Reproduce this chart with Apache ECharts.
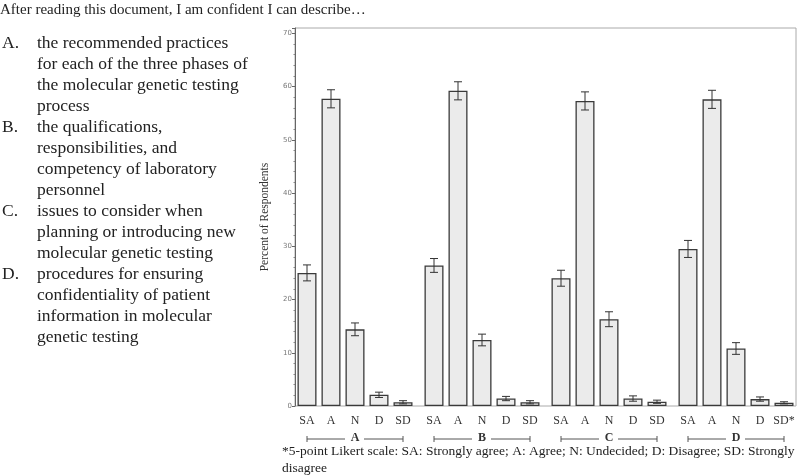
<!DOCTYPE html>
<html>
<head>
<meta charset="utf-8">
<script src="https://cdn.jsdelivr.net/npm/echarts@6/dist/echarts.min.js"></script>
<style>
  html, body { margin: 0; padding: 0; background: #fff; }
  #chart { width: 800px; height: 476px; }
</style>
</head>
<body>
<div id="chart"></div>
<script>
// statements A-D, 5-point Likert answers
const groups = ["A", "B", "C", "D"];
const levels = ["SA", "A", "N", "D", "SD"];

// percent of respondents per answer, and half-width of the error bar
const valuesA = [25.0, 57.7, 14.4, 2.1, 0.7];
const errorsA = [1.5, 1.7, 1.2, 0.5, 0.3];
const valuesB = [26.4, 59.2, 12.4, 1.4, 0.7];
const errorsB = [1.3, 1.7, 1.1, 0.4, 0.3];
const valuesC = [24.0, 57.3, 16.3, 1.4, 0.8];
const errorsC = [1.5, 1.7, 1.4, 0.5, 0.3];
const valuesD = [29.5, 57.6, 10.8, 1.3, 0.6];
const errorsD = [1.6, 1.7, 1.1, 0.4, 0.2];

const yTicks = [0, 10, 20, 30, 40, 50, 60, 70];

const allValues = [valuesA, valuesB, valuesC, valuesD];
const allErrors = [errorsA, errorsB, errorsC, errorsD];

const statementLines = [
  "the recommended practices",
  "for each of the three phases of",
  "the molecular genetic testing",
  "process",
  "the qualifications,",
  "responsibilities, and",
  "competency of laboratory",
  "personnel",
  "issues to consider when",
  "planning or introducing new",
  "molecular genetic testing",
  "procedures for ensuring",
  "confidentiality of patient",
  "information in molecular",
  "genetic testing"
];
const statementStarts = [0, 4, 8, 11];

const serif = "'Liberation Serif', 'DejaVu Serif', serif";
const yMax = 71;

// layout
const plotLeft = 295, plotTop = 28, plotHeight = 378;
const groupWidth = 120, groupStep = 127;
const plotWidth = groupStep * 3 + groupWidth;

const chart = echarts.init(document.getElementById("chart"));

let grids = [{
  left: plotLeft, top: plotTop, width: plotWidth, height: plotHeight,
  show: true, borderColor: "#aaa", borderWidth: 1, backgroundColor: "transparent"
}];
let xAxes = [{ gridIndex: 0, type: "value", min: 0, max: 1, show: false }];
let yAxes = [{
  gridIndex: 0,
  type: "value",
  min: 0,
  max: yMax,
  interval: 10,
  name: "Percent of Respondents",
  nameLocation: "middle",
  nameGap: 24,
  nameTextStyle: { fontFamily: serif, fontSize: 11.5, color: "#333" },
  axisLine: { show: true, lineStyle: { color: "#666", width: 1 } },
  axisTick: { show: true, length: 3, lineStyle: { color: "#666" } },
  minorTick: { show: true, splitNumber: 5, length: 1.5, lineStyle: { color: "#888" } },
  axisLabel: {
    margin: 3,
    fontSize: 7,
    color: "#777",
    fontFamily: "'DejaVu Sans', sans-serif",
    formatter: function (v) { return yTicks.indexOf(v) >= 0 ? String(v) : ""; }
  },
  splitLine: { show: false }
}];
let series = [];

groups.forEach(function (g, i) {
  const gi = i + 1;
  grids.push({ left: plotLeft + i * groupStep, top: plotTop, width: groupWidth, height: plotHeight });
  xAxes.push({
    gridIndex: gi,
    type: "category",
    data: levels,
    axisLine: { show: false },
    axisTick: { show: false },
    axisLabel: {
      margin: 9,
      interval: 0,
      fontFamily: serif,
      fontSize: 12,
      color: "#333",
      // the footnote marker sits on the last answer label
      formatter: function (v, idx) {
        return (i === groups.length - 1 && idx === levels.length - 1) ? v + "*" : v;
      }
    }
  });
  yAxes.push({ gridIndex: gi, type: "value", min: 0, max: yMax, show: false });

  series.push({
    type: "bar",
    xAxisIndex: gi,
    yAxisIndex: gi,
    data: allValues[i],
    barWidth: 19,
    itemStyle: { color: "#ebebeb", borderColor: "#3a3a3a", borderWidth: 1.3 },
    silent: true
  });
  series.push({
    type: "custom",
    xAxisIndex: gi,
    yAxisIndex: gi,
    data: allValues[i].map(function (v, k) { return [k, v - allErrors[i][k], v + allErrors[i][k]]; }),
    renderItem: function (params, api) {
      const lo = api.coord([api.value(0), api.value(1)]);
      const hi = api.coord([api.value(0), api.value(2)]);
      const w = 4;
      const style = { stroke: "#333", lineWidth: 1 };
      return {
        type: "group",
        children: [
          { type: "line", shape: { x1: hi[0], y1: hi[1], x2: lo[0], y2: lo[1] }, style: style },
          { type: "line", shape: { x1: hi[0] - w, y1: hi[1], x2: hi[0] + w, y2: hi[1] }, style: style },
          { type: "line", shape: { x1: lo[0] - w, y1: lo[1], x2: lo[0] + w, y2: lo[1] }, style: style }
        ]
      };
    },
    z: 5,
    silent: true
  });
});

let letters = [];
statementLines.forEach(function (l, k) {
  const s = statementStarts.indexOf(k);
  letters.push(s >= 0 ? groups[s] + "." : "");
});

const textGraphics = [
  {
    type: "text", left: 0, top: 3,
    style: { text: "After reading this document, I am confident I can describe\u2026", font: "15px " + serif, fill: "#222" }
  },
  {
    type: "text", left: 2, top: 33,
    style: { text: letters.join("\n"), font: "17.5px " + serif, lineHeight: 21, fill: "#222" }
  },
  {
    type: "text", left: 37, top: 33,
    style: { text: statementLines.join("\n"), font: "17.5px " + serif, lineHeight: 21, fill: "#222" }
  },
  {
    type: "text", left: 282, top: 443,
    style: {
      text: "*5-point Likert scale: SA: Strongly agree; A: Agree; N: Undecided; D: Disagree; SD: Strongly\ndisagree",
      font: "13.5px " + serif, lineHeight: 17, fill: "#222"
    }
  }
];

chart.setOption({
  animation: false,
  backgroundColor: "#fff",
  grid: grids,
  xAxis: xAxes,
  yAxis: yAxes,
  series: series,
  graphic: textGraphics
});

// group brackets under the answer labels, placed from the axes
let brackets = [];
const bracketY = 439;
groups.forEach(function (g, i) {
  const x0 = chart.convertToPixel({ xAxisIndex: i + 1 }, levels[0]);
  const x1 = chart.convertToPixel({ xAxisIndex: i + 1 }, levels[levels.length - 1]);
  const mid = (x0 + x1) / 2;
  const st = { stroke: "#555", lineWidth: 1 };
  brackets.push(
    { type: "line", shape: { x1: x0, y1: bracketY, x2: mid - 10, y2: bracketY }, style: st },
    { type: "line", shape: { x1: mid + 9, y1: bracketY, x2: x1, y2: bracketY }, style: st },
    { type: "line", shape: { x1: x0, y1: bracketY - 3, x2: x0, y2: bracketY + 3 }, style: st },
    { type: "line", shape: { x1: x1, y1: bracketY - 3, x2: x1, y2: bracketY + 3 }, style: st },
    {
      type: "text", x: mid, y: bracketY - 1,
      style: { text: g, font: "bold 12px " + serif, fill: "#333", align: "center", verticalAlign: "middle" }
    }
  );
});

chart.setOption({ graphic: textGraphics.concat(brackets) });
</script>
</body>
</html>
